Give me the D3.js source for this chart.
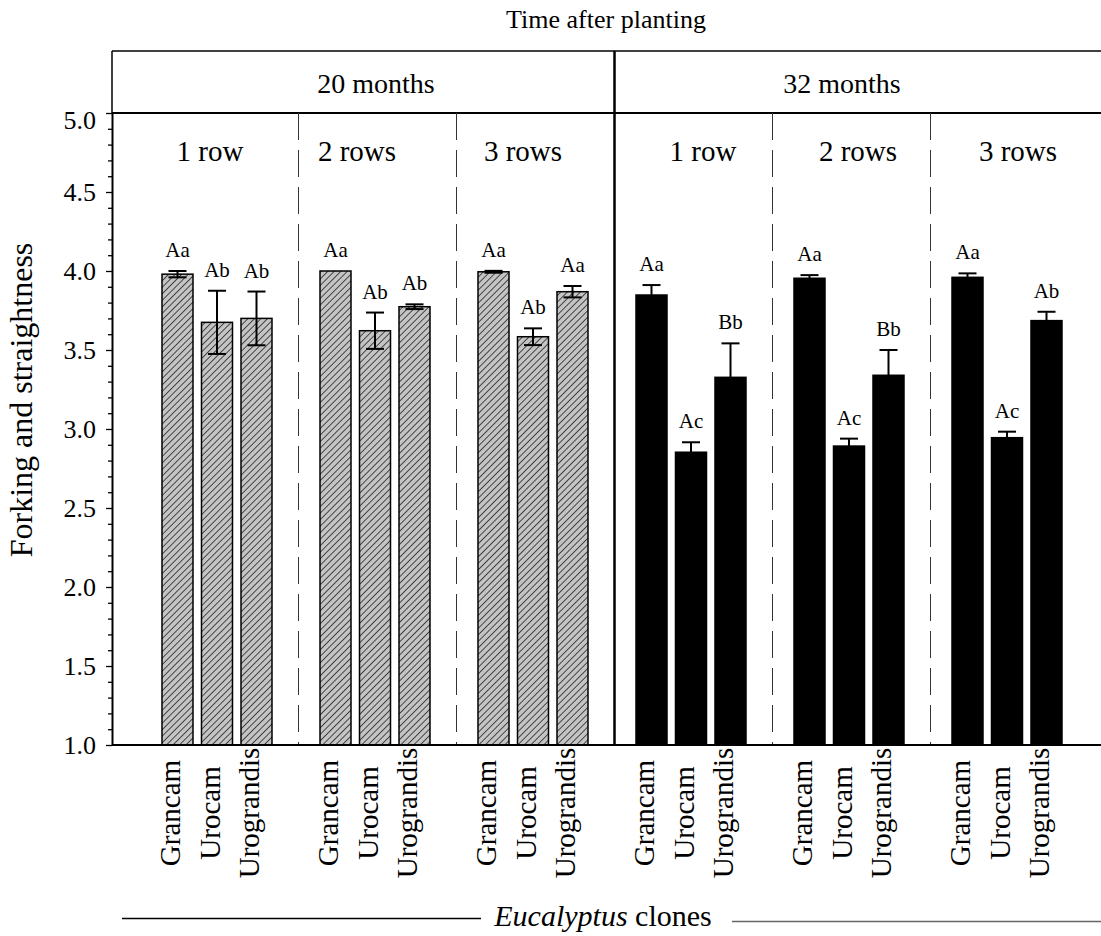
<!DOCTYPE html>
<html>
<head>
<meta charset="utf-8">
<script src="https://cdn.jsdelivr.net/npm/d3@7"></script>
<style>
  html, body { margin: 0; padding: 0; background: #fff; }
  svg { display: block; }
  text { font-family: "Liberation Serif", "Times New Roman", serif; fill: #000; }
</style>
</head>
<body>
<svg id="chart" width="1101" height="936"></svg>
<script>
// ---------------- data ----------------
const periods = ["20 months", "32 months"];
const rowLabels = ["1 row", "2 rows", "3 rows"];
const clones = ["Grancam", "Urocam", "Urograndis"];

// rows x clones
const values20 = [[3.98, 3.675, 3.70], [4.00, 3.622, 3.774], [3.995, 3.584, 3.869]];
const errors20 = [[0.02, 0.20, 0.17], [0.0, 0.115, 0.015], [0.006, 0.053, 0.036]];
const letters20 = [["Aa", "Ab", "Ab"], ["Aa", "Ab", "Ab"], ["Aa", "Ab", "Aa"]];

const values32 = [[3.848, 2.853, 3.327], [3.954, 2.892, 3.34], [3.96, 2.945, 3.686]];
const errors32 = [[0.063, 0.063, 0.215], [0.02, 0.047, 0.16], [0.025, 0.038, 0.056]];
const letters32 = [["Aa", "Ac", "Bb"], ["Aa", "Ac", "Bb"], ["Aa", "Ac", "Ab"]];

const yTickLabels = ["1.0", "1.5", "2.0", "2.5", "3.0", "3.5", "4.0", "4.5", "5.0"];
const yTitle = "Forking and straightness";
const topTitle = "Time after planting";

// ---------------- layout ----------------
const FONT = '"Liberation Serif", "Times New Roman", serif';
const plotLeft = 112, plotRight = 1101, plotTop = 113, plotBottom = 745, headerTop = 51;
const rowLabelDx = [-7, -18, -10, 12, 9, 11];

const groups = [];
periods.forEach((p, pi) => rowLabels.forEach((r, ri) => groups.push({ key: p + "|" + r, period: pi, row: ri, label: r })));

const data = [];
groups.forEach(g => {
  const vals = g.period === 0 ? values20 : values32;
  const errs = g.period === 0 ? errors20 : errors32;
  const lets = g.period === 0 ? letters20 : letters32;
  clones.forEach((c, ci) => data.push({ group: g.key, period: g.period, clone: c, value: vals[g.row][ci], err: errs[g.row][ci], letter: lets[g.row][ci] }));
});

const svg = d3.select("#chart");
svg.append("rect").attr("width", 1101).attr("height", 936).attr("fill", "#fff");

const y = d3.scaleLinear().domain([1, 5]).range([plotBottom, plotTop]);
const xGroup = d3.scaleBand().domain(groups.map(g => g.key)).range([138, 1086]).padding(0);
const xBar = d3.scaleBand().domain(clones).range([0, xGroup.bandwidth()]).paddingInner(0.215).paddingOuter(0.6075);

// hatch pattern
const defs = svg.append("defs");
const pat = defs.append("pattern").attr("id", "hatch").attr("patternUnits", "userSpaceOnUse")
  .attr("width", 4.6).attr("height", 4.6).attr("patternTransform", "rotate(45)");
pat.append("rect").attr("width", 4.6).attr("height", 4.6).attr("fill", "#c4c4c4");
pat.append("line").attr("x1", 0).attr("y1", 0).attr("x2", 0).attr("y2", 4.6).attr("stroke", "#000").attr("stroke-width", 1.3);

// top title
svg.append("text").attr("x", 606).attr("y", 28).attr("text-anchor", "middle")
  .style("font-size", "26px").text(topTitle);

// header box
const frame = svg.append("g").attr("stroke", "#000").attr("fill", "none");
frame.append("line").attr("x1", plotLeft).attr("x2", plotRight).attr("y1", headerTop).attr("y2", headerTop).attr("stroke-width", 1.5);
frame.append("line").attr("x1", plotLeft).attr("x2", plotRight).attr("y1", plotTop).attr("y2", plotTop).attr("stroke-width", 2);
frame.append("line").attr("x1", plotLeft).attr("x2", plotLeft).attr("y1", headerTop).attr("y2", plotTop).attr("stroke-width", 1.5);

// period labels
periods.forEach((p, pi) => {
  const mid = groups[pi * 3 + 1].key;
  svg.append("text").attr("x", xGroup(mid) + xGroup.bandwidth() / 2 + (pi === 0 ? 1 : -7))
    .attr("y", 93).attr("text-anchor", "middle").style("font-size", "28px").text(p);
});

// dividers
groups.slice(1).forEach((g, i) => {
  const xx = Math.round(xGroup(g.key) + 2) + 0.5;
  if (g.row === 0) {
    svg.append("line").attr("x1", xx).attr("x2", xx).attr("y1", headerTop).attr("y2", plotBottom)
      .attr("stroke", "#000").attr("stroke-width", 2.5);
  } else {
    svg.append("line").attr("x1", xx).attr("x2", xx).attr("y1", plotTop).attr("y2", plotBottom)
      .attr("stroke", "#333").attr("stroke-width", 1).attr("stroke-dasharray", "27,10");
  }
});

// row labels
groups.forEach((g, i) => {
  svg.append("text").attr("x", xGroup(g.key) + xGroup.bandwidth() / 2 + rowLabelDx[i])
    .attr("y", 161).attr("text-anchor", "middle").style("font-size", "29px").text(g.label);
});

// bars
svg.append("g").selectAll("rect").data(data).join("rect")
  .attr("x", d => xGroup(d.group) + xBar(d.clone))
  .attr("y", d => y(d.value))
  .attr("width", xBar.bandwidth())
  .attr("height", d => y(1) - y(d.value))
  .attr("fill", d => d.period === 0 ? "url(#hatch)" : "#000")
  .attr("stroke", "#000").attr("stroke-width", 1.5);

// error bars
const eb = svg.append("g").attr("stroke", "#000").attr("stroke-width", 2);
data.filter(d => d.err > 0).forEach(d => {
  const cx = xGroup(d.group) + xBar(d.clone) + xBar.bandwidth() / 2;
  const hi = y(d.value + d.err), lo = y(d.value - d.err);
  eb.append("line").attr("x1", cx).attr("x2", cx).attr("y1", hi).attr("y2", lo);
  eb.append("line").attr("x1", cx - 9).attr("x2", cx + 9).attr("y1", hi).attr("y2", hi);
  eb.append("line").attr("x1", cx - 9).attr("x2", cx + 9).attr("y1", lo).attr("y2", lo);
});

// letters
svg.append("g").selectAll("text").data(data).join("text")
  .attr("x", d => xGroup(d.group) + xBar(d.clone) + xBar.bandwidth() / 2)
  .attr("y", d => y(d.value + d.err) - 14)
  .attr("text-anchor", "middle").style("font-size", "21px")
  .text(d => d.letter);

// y axis
const majorTicks = yTickLabels.map(Number);
const minorTicks = d3.range(10, 51).map(v => v / 10).filter(v => !majorTicks.some(m => Math.abs(m - v) < 1e-9));
const yAxisMinor = svg.append("g").attr("transform", `translate(${plotLeft},0)`)
  .call(d3.axisLeft(y).tickValues(minorTicks).tickSize(4).tickSizeOuter(0).tickFormat(""));
yAxisMinor.select(".domain").remove();
yAxisMinor.selectAll("line").attr("stroke-width", 1.3);
const yAxis = svg.append("g").attr("transform", `translate(${plotLeft},0)`)
  .call(d3.axisLeft(y).tickValues(majorTicks).tickSize(6).tickSizeOuter(0).tickPadding(10)
    .tickFormat((d, i) => yTickLabels[i]));
yAxis.selectAll("text").style("font-family", FONT).style("font-size", "26px").attr("fill", "#000");
yAxis.selectAll("text").filter(d => d === 5).attr("y", 7);
yAxis.selectAll("line").attr("stroke-width", 1.3);
yAxis.select(".domain").attr("stroke-width", 2);

// x axis line
svg.append("line").attr("x1", plotLeft).attr("x2", plotRight).attr("y1", plotBottom).attr("y2", plotBottom)
  .attr("stroke", "#000").attr("stroke-width", 2);

// clone labels (rotated)
svg.append("g").selectAll("text").data(data).join("text")
  .attr("transform", d => `translate(${xGroup(d.group) + xBar(d.clone) + xBar.bandwidth() / 2},813) rotate(-90)`)
  .attr("text-anchor", "middle").attr("dy", "0.1em").style("font-size", "29px")
  .text(d => d.clone);

// y title
svg.append("text").attr("transform", "translate(32,400) rotate(-90)")
  .attr("text-anchor", "middle").style("font-size", "32px").text(yTitle);

// bottom title
const bt = svg.append("text").attr("x", 603).attr("y", 926).attr("text-anchor", "middle").style("font-size", "30px");
bt.append("tspan").style("font-style", "italic").text("Eucalyptus");
bt.append("tspan").text(" clones");
svg.append("line").attr("x1", 122).attr("x2", 481).attr("y1", 918.5).attr("y2", 918.5).attr("stroke", "#000").attr("stroke-width", 1.5);
svg.append("line").attr("x1", 732).attr("x2", plotRight).attr("y1", 921.5).attr("y2", 921.5).attr("stroke", "#666").attr("stroke-width", 1.5);
</script>
</body>
</html>
